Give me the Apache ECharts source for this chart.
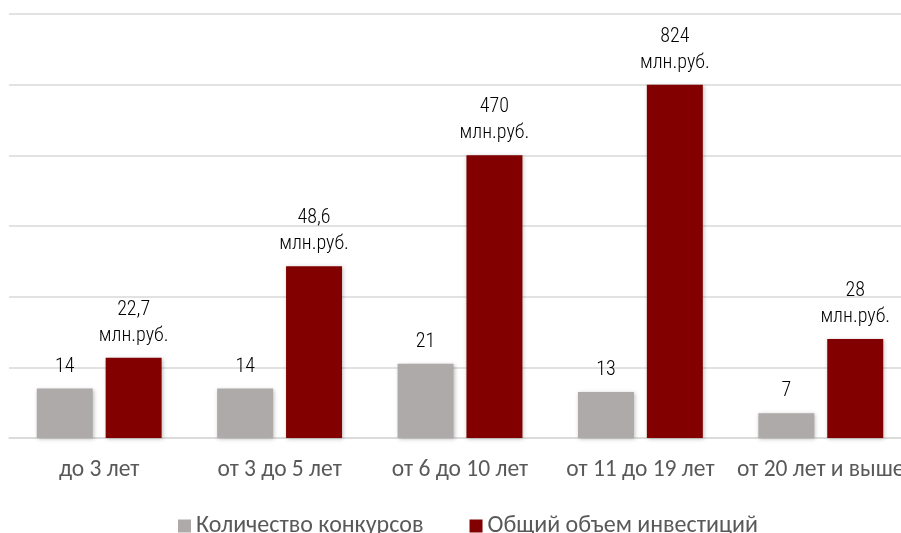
<!DOCTYPE html>
<html><head><meta charset="utf-8">
<script src="https://cdn.jsdelivr.net/npm/echarts@6/dist/echarts.min.js"></script>
<style>html,body{margin:0;padding:0;background:#fff;overflow:hidden;width:901px;height:533px}#c{width:911px;height:533px}</style>
</head><body><div id="c"></div>
<script>
const categories = ['до 3 лет', 'от 3 до 5 лет', 'от 6 до 10 лет', 'от 11 до 19 лет', 'от 20 лет и выше'];
const contestCount = [14, 14, 21, 13, 7];
const investBarHeights = [22.7, 48.6, 80, 100, 28];
const investLabels = ['22,7', '48,6', '470', '824', '28'];
const seriesNames = ['Количество конкурсов', 'Общий объем инвестиций'];

const chart = echarts.init(document.getElementById('c'));
const labelFont = {fontFamily: '"Roboto Condensed", sans-serif', fontWeight: 300, fontSize: 20, color: '#000', lineHeight: 26};
chart.setOption({
  animation: false,
  grid: {left: 9, top: 14, right: 0, height: 424, containLabel: false},
  legend: {
    left: 173, top: 509, itemWidth: 13, itemHeight: 13, itemGap: 46,
    icon: 'rect',
    textStyle: {fontFamily: 'Carlito, sans-serif', fontSize: 24, color: '#595959'},
    data: seriesNames
  },
  xAxis: {
    type: 'category', data: categories,
    axisLine: {show: true, lineStyle: {color: '#d9d9d9', width: 1.5}},
    axisTick: {show: false},
    axisLabel: {interval: 0, margin: 20, fontFamily: 'Carlito, sans-serif', fontSize: 23.5, color: '#595959'}
  },
  yAxis: {
    type: 'value', min: 0, max: 120, interval: 20,
    axisLabel: {show: false}, axisLine: {show: false}, axisTick: {show: false},
    splitLine: {lineStyle: {color: '#d9d9d9', width: 1.5}}
  },
  series: [
    {
      name: seriesNames[0], type: 'bar', data: contestCount, barWidth: 56, barGap: '23%',
      itemStyle: {color: '#aeaaa9', shadowBlur: 4, shadowColor: 'rgba(0,0,0,0.25)', shadowOffsetX: 1, shadowOffsetY: 1},
      label: Object.assign({show: true, position: 'top', distance: 9}, labelFont)
    },
    {
      name: seriesNames[1], type: 'bar', data: investBarHeights, barWidth: 56,
      itemStyle: {color: '#820000', shadowBlur: 4, shadowColor: 'rgba(0,0,0,0.25)', shadowOffsetX: 1, shadowOffsetY: 1},
      label: Object.assign({show: true, position: 'top', distance: 9,
        formatter: p => investLabels[p.dataIndex] + '\nмлн.руб.'}, labelFont)
    }
  ]
});
</script></body></html>
